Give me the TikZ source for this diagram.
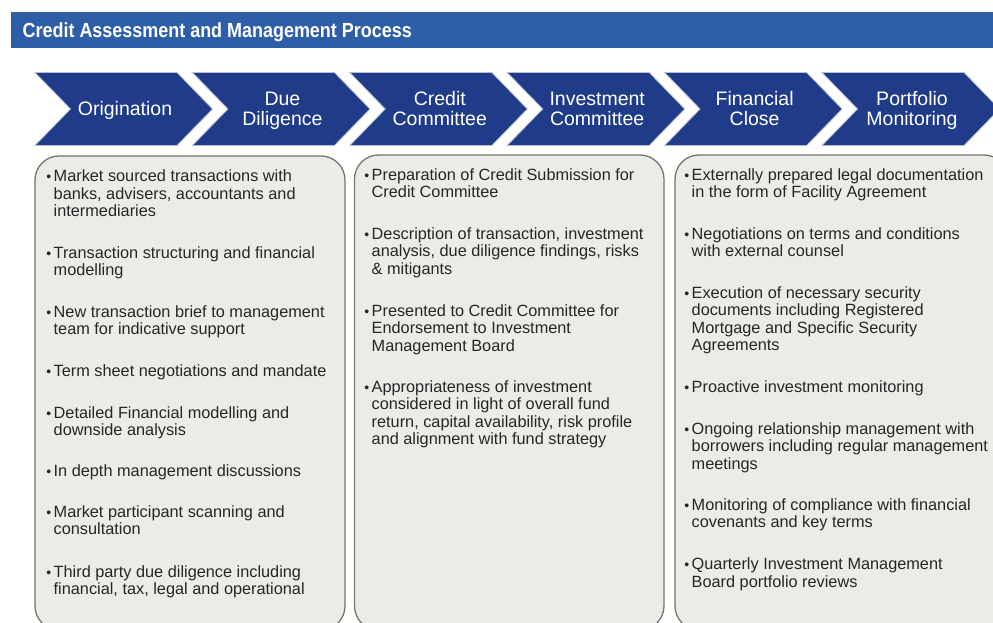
\documentclass[tikz,border=0pt]{standalone}
\usepackage{fontspec}
\setmainfont{Liberation Sans}
\newfontfamily\headfont[FakeStretch=0.88]{Liberation Sans}
\usetikzlibrary{calc}

\definecolor{headblue}{HTML}{2E5EA8}
\definecolor{chevblue}{HTML}{203C88}
\definecolor{chevedge}{HTML}{B4BED6}
\definecolor{boxfill}{HTML}{ECEBE7}
\definecolor{boxedge}{HTML}{76766A}
\definecolor{bodytext}{HTML}{262626}

% one line of a bullet point
\newcommand\itemrow[1]{\hbox{#1}}
% bullet point: name, x, baseline y, lines
\newcommand\bulletitem[4]{%
  \node[itemtext] (#1) at (#2,#3) {\vtop{#4}};
  \node[itembullet] (#1-dot) at ($(#2,#3)+(-7.3,0)$) {\textbullet};
}
% chevron outline from its left edge
\newcommand\chevron[1]{%
  \draw[chevshape] (#1,72.5) -- ++(142,0) -- ++(35.5,36.5) -- ++(-35.5,36.5)
    -- ++(-142,0) -- ++(35.5,-36.5) -- cycle;
}

\begin{document}
\begin{tikzpicture}[x=1pt,y=-1pt,
  chevshape/.style={fill=chevblue,draw=chevedge,line width=0.8pt,line join=miter},
  chevlabel/.style={anchor=base,inner sep=0,text=white,
    font=\fontsize{19.5}{20}\selectfont},
  panel/.style={fill=boxfill,draw=boxedge,line width=1.3pt,rounded corners=24pt},
  itemtext/.style={anchor=base west,inner sep=0,text=bodytext,
    font=\fontsize{16.3}{17.5}\selectfont},
  itembullet/.style={anchor=base west,inner sep=0,text=bodytext,
    font=\fontsize{14}{17.5}\selectfont},
  title/.style={anchor=base west,inner sep=0,text=white,
    font=\headfont\bfseries\fontsize{20.4}{22}\selectfont}]
\useasboundingbox (0,0) rectangle (993,623);
\clip (0,0) rectangle (993,623);

% header bar
\fill[headblue] (11,12) rectangle (1000,48.3);
\node[title] (title) at (22.5,37.3) {Credit Assessment and Management Process};

% process chevrons
\chevron{35}
\chevron{192.4}
\chevron{349.8}
\chevron{507.2}
\chevron{664.6}
\chevron{822}
\node[chevlabel] (orig) at (125,115.5) {Origination};
\node[chevlabel] (dd)   at (282.4,105.5) {\begin{tabular}[t]{@{}c@{}}Due\\Diligence\end{tabular}};
\node[chevlabel] (cc)   at (439.8,105.5) {\begin{tabular}[t]{@{}c@{}}Credit\\Committee\end{tabular}};
\node[chevlabel] (ic)   at (597.2,105.5) {\begin{tabular}[t]{@{}c@{}}Investment\\Committee\end{tabular}};
\node[chevlabel] (fc)   at (754.6,105.5) {\begin{tabular}[t]{@{}c@{}}Financial\\Close\end{tabular}};
\node[chevlabel] (pm)   at (912,105.5) {\begin{tabular}[t]{@{}c@{}}Portfolio\\Monitoring\end{tabular}};

% detail panels
\draw[panel] (35,156) rectangle (345,630);
\draw[panel] (354.5,155) rectangle (664,630);
\draw[panel] (675,155) rectangle (1008,630);

% origination and due diligence
\bulletitem{a1}{53.5}{182}{\itemrow{Market sourced transactions with}\itemrow{banks, advisers, accountants and}\itemrow{intermediaries}}
\bulletitem{a2}{53.5}{258}{\itemrow{Transaction structuring and financial}\itemrow{modelling}}
\bulletitem{a3}{53.5}{317}{\itemrow{New transaction brief to management}\itemrow{team for indicative support}}
\bulletitem{a4}{53.5}{376}{\itemrow{Term sheet negotiations and mandate}}
\bulletitem{a5}{53.5}{418}{\itemrow{Detailed Financial modelling and}\itemrow{downside analysis}}
\bulletitem{a6}{53.5}{476}{\itemrow{In depth management discussions}}
\bulletitem{a7}{53.5}{517}{\itemrow{Market participant scanning and}\itemrow{consultation}}
\bulletitem{a8}{53.5}{577}{\itemrow{Third party due diligence including}\itemrow{financial, tax, legal and operational}}

% committees
\bulletitem{b1}{371.5}{180}{\itemrow{Preparation of Credit Submission for}\itemrow{Credit Committee}}
\bulletitem{b2}{371.5}{239}{\itemrow{Description of transaction, investment}\itemrow{analysis, due diligence findings, risks}\itemrow{\& mitigants}}
\bulletitem{b3}{371.5}{316}{\itemrow{Presented to Credit Committee for}\itemrow{Endorsement to Investment}\itemrow{Management Board}}
\bulletitem{b4}{371.5}{392}{\itemrow{Appropriateness of investment}\itemrow{considered in light of overall fund}\itemrow{return, capital availability, risk profile}\itemrow{and alignment with fund strategy}}

% financial close and monitoring
\bulletitem{c1}{691.5}{180}{\itemrow{Externally prepared legal documentation}\itemrow{in the form of Facility Agreement}}
\bulletitem{c2}{691.5}{239}{\itemrow{Negotiations on terms and conditions}\itemrow{with external counsel}}
\bulletitem{c3}{691.5}{298}{\itemrow{Execution of necessary security}\itemrow{documents including Registered}\itemrow{Mortgage and Specific Security}\itemrow{Agreements}}
\bulletitem{c4}{691.5}{392}{\itemrow{Proactive investment monitoring}}
\bulletitem{c5}{691.5}{434}{\itemrow{Ongoing relationship management with}\itemrow{borrowers including regular management}\itemrow{meetings}}
\bulletitem{c6}{691.5}{510}{\itemrow{Monitoring of compliance with financial}\itemrow{covenants and key terms}}
\bulletitem{c7}{691.5}{569.5}{\itemrow{Quarterly Investment Management}\itemrow{Board portfolio reviews}}
\end{tikzpicture}
\end{document}
